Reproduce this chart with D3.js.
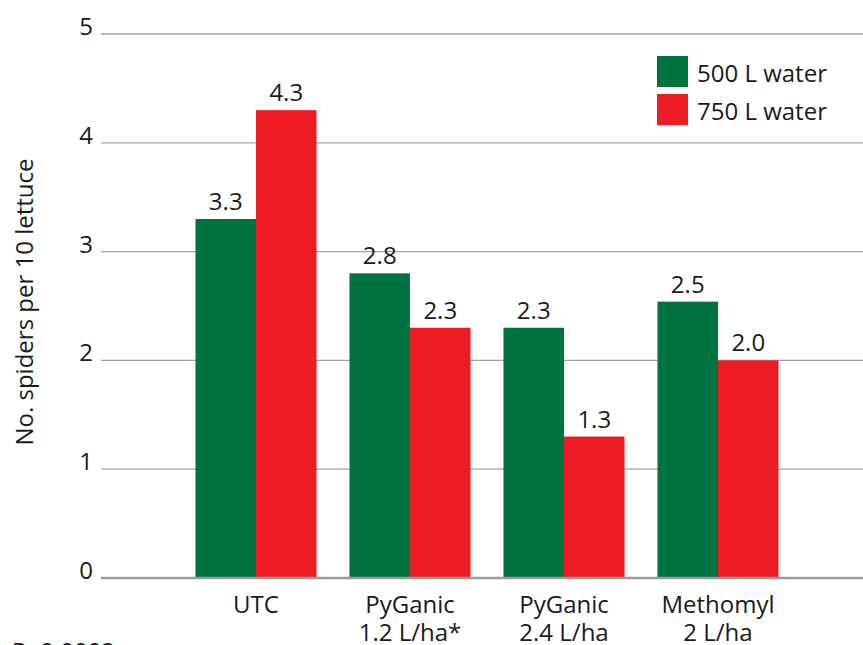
<!DOCTYPE html>
<html>
<head>
<meta charset="utf-8">
<script src="https://cdn.jsdelivr.net/npm/d3@7"></script>
<style>
  body { margin: 0; background: #fff; }
  svg { display: block; font-family: "Open Sans", "Noto Sans", sans-serif; }
</style>
</head>
<body>
<svg id="chart" width="863" height="645"></svg>
<script>
const categories = [['UTC'], ['PyGanic', '1.2 L/ha*'], ['PyGanic', '2.4 L/ha'], ['Methomyl', '2 L/ha']];
const seriesNames = ['500 L water', '750 L water'];
const water500 = [3.3, 2.8, 2.3, 2.54];
const water750 = [4.3, 2.3, 1.3, 2.0];
const yTicks = [0, 1, 2, 3, 4, 5];
const colors = ['#007340', '#ed1c24'];

const svg = d3.select('#chart');
const fs = 24;

const y = d3.scaleLinear().domain([0, 5]).range([578, 34]);
const x = d3.scaleBand()
    .domain(d3.range(categories.length))
    .range([179, 795])
    .paddingInner(0.214)
    .paddingOuter(0.107);
const xs = d3.scaleBand().domain([0, 1]).range([0, x.bandwidth()]);

// gridlines
svg.append('g')
    .selectAll('line')
    .data(yTicks.filter(d => d > 0))
    .join('line')
    .attr('x1', 101).attr('x2', 863)
    .attr('y1', d => y(d)).attr('y2', d => y(d))
    .attr('stroke', '#a3a3a3')
    .attr('stroke-width', 1.3);

// y tick labels
svg.append('g')
    .selectAll('text')
    .data(yTicks)
    .join('text')
    .attr('x', 93)
    .attr('y', d => y(d) + 1)
    .attr('text-anchor', 'end')
    .attr('font-size', fs)
    .attr('fill', '#1a1a1a')
    .text(d => d);

// bars
const rows = categories.map((c, i) => [water500[i], water750[i]]);
const grp = svg.append('g')
    .selectAll('g')
    .data(rows)
    .join('g')
    .attr('transform', (d, i) => `translate(${x(i)},0)`);

grp.selectAll('rect')
    .data(d => d)
    .join('rect')
    .attr('x', (d, j) => xs(j))
    .attr('y', d => y(d))
    .attr('width', xs.bandwidth())
    .attr('height', d => y(0) - y(d))
    .attr('fill', (d, j) => colors[j]);

grp.selectAll('text')
    .data(d => d)
    .join('text')
    .attr('x', (d, j) => xs(j) + xs.bandwidth() / 2)
    .attr('y', d => y(d) - 9)
    .attr('text-anchor', 'middle')
    .attr('font-size', fs)
    .attr('fill', '#1a1a1a')
    .text(d => d.toFixed(1));

// baseline
svg.append('line')
    .attr('x1', 101).attr('x2', 863)
    .attr('y1', y(0)).attr('y2', y(0))
    .attr('stroke', '#9a9a9a')
    .attr('stroke-width', 2.5);

// x labels
const xl = svg.append('g')
    .selectAll('text')
    .data(categories)
    .join('text')
    .attr('x', (d, i) => x(i) + x.bandwidth() / 2)
    .attr('y', 613)
    .attr('text-anchor', 'middle')
    .attr('font-size', fs)
    .attr('fill', '#1a1a1a');
xl.selectAll('tspan')
    .data(d => d)
    .join('tspan')
    .attr('x', function () { return this.parentNode.getAttribute('x'); })
    .attr('dy', (d, k) => k === 0 ? 0 : 28)
    .text(d => d);

// y title
svg.append('text')
    .attr('transform', 'translate(33,302) rotate(-90)')
    .attr('text-anchor', 'middle')
    .attr('font-size', fs)
    .attr('fill', '#1a1a1a')
    .text('No. spiders per 10 lettuce');

// legend
const lg = svg.append('g')
    .selectAll('g')
    .data(seriesNames)
    .join('g')
    .attr('transform', (d, i) => `translate(657,${56 + i * 38})`);
lg.append('rect')
    .attr('width', 31).attr('height', 31)
    .attr('fill', (d, i) => colors[i]);
lg.append('text')
    .attr('x', 40).attr('y', 26)
    .attr('font-size', fs)
    .attr('fill', '#1a1a1a')
    .text(d => d);

// footnote, cut by the bottom edge as in the source
svg.append('text')
    .attr('x', 12).attr('y', 660)
    .attr('font-size', fs)
    .attr('fill', '#1a1a1a')
    .text('P=0.0002');
</script>
</body>
</html>
